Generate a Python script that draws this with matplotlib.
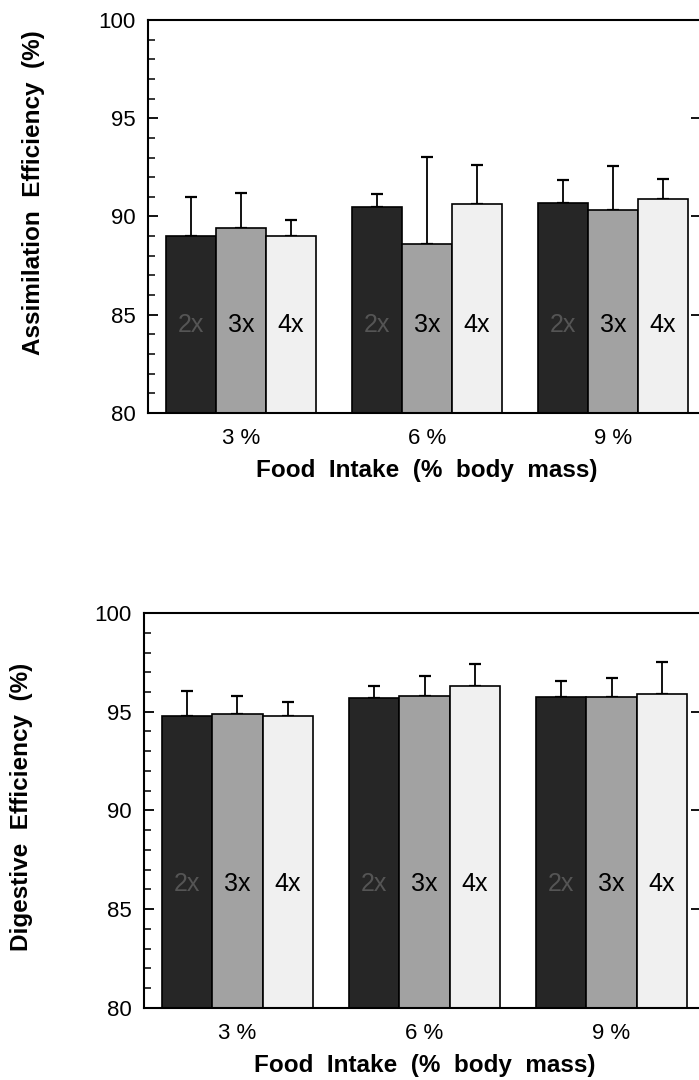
import numpy as np
import matplotlib
matplotlib.use("Agg")
import matplotlib.pyplot as plt
from matplotlib.ticker import MultipleLocator

plt.rcParams['font.family'] = ['Liberation Sans', 'DejaVu Sans']

# data
intake = ['3 %', '6 %', '9 %']
groups = ['2x', '3x', '4x']

assim_mean = {'2x': [89.0, 90.5, 90.7],
              '3x': [89.4, 88.6, 90.35],
              '4x': [89.0, 90.65, 90.9]}
assim_err = {'2x': [2.0, 0.65, 1.15],
             '3x': [1.8, 4.45, 2.2],
             '4x': [0.8, 1.95, 1.0]}

dig_mean = {'2x': [94.8, 95.7, 95.75],
            '3x': [94.9, 95.8, 95.75],
            '4x': [94.8, 96.3, 95.9]}
dig_err = {'2x': [1.25, 0.6, 0.8],
           '3x': [0.9, 1.0, 0.95],
           '4x': [0.7, 1.1, 1.6]}

colors = {'2x': '#262626', '3x': '#a2a2a2', '4x': '#f0f0f0'}
txtcol = {'2x': '#555555', '3x': 'black', '4x': 'black'}

fig = plt.figure(figsize=(6.99, 10.8), dpi=100)
ax1 = fig.add_axes([0.2117, 0.6176, 0.7983, 0.3639])
ax2 = fig.add_axes([0.206, 0.0667, 0.8026, 0.3657])


def draw(ax, means, errs, ylabel, label_y, lab_x, lab_ypos):
    x = np.arange(len(intake))
    w = 0.269
    for i, g in enumerate(groups):
        xs = x + (i - 1) * w
        ax.bar(xs, means[g], width=w, color=colors[g], edgecolor='black',
               linewidth=1.2, zorder=2)
        ax.errorbar(xs, means[g], yerr=[np.zeros(3), errs[g]], fmt='none',
                    ecolor='black', elinewidth=1.3, capsize=4, capthick=1.6,
                    zorder=1)
        for xx in xs:
            ax.text(xx, label_y, g, ha='center', va='center', fontsize=18,
                    color=txtcol[g], zorder=3)
    ax.set_xlim(-0.5, 2.5)
    ax.set_ylim(80, 100)
    ax.set_xticks(x)
    ax.set_xticklabels(intake, fontsize=16)
    ax.tick_params(axis='x', length=0, pad=11)
    ax.yaxis.set_major_locator(MultipleLocator(5))
    ax.yaxis.set_minor_locator(MultipleLocator(1))
    ax.tick_params(axis='y', which='major', direction='in', length=7,
                   width=1.3, labelsize=16, pad=9)
    ax.tick_params(axis='y', which='minor', direction='in', length=5,
                   width=1.1)
    for s in ['left', 'top', 'bottom']:
        ax.spines[s].set_linewidth(1.5)
    ax.spines['right'].set_visible(False)
    ax.set_xlabel('Food  Intake  (%  body  mass)', fontsize=17.5,
                  fontweight='bold', labelpad=7)
    ax.set_ylabel(ylabel.replace(' ', '  '), fontsize=17.5, fontweight='bold')
    ax.yaxis.set_label_coords(lab_x, lab_ypos)

    # tick marks of the neighbouring panel peeking in at the right edge
    pos = ax.get_position()
    nb = fig.add_axes([1.0, pos.y0, 0.2, pos.height])
    nb.set_ylim(80, 100)
    nb.set_yticks([85, 90, 95])
    nb.tick_params(axis='y', direction='out', length=6, width=1.3,
                   labelleft=False)
    nb.set_xticks([])
    for s in nb.spines.values():
        s.set_visible(False)
    nb.patch.set_visible(False)


draw(ax1, assim_mean, assim_err, 'Assimilation Efficiency (%)', 84.5,
     -0.185, 0.56)
draw(ax2, dig_mean, dig_err, 'Digestive Efficiency (%)', 86.3,
     -0.198, 0.51)

fig.savefig('out.png', dpi=100)
